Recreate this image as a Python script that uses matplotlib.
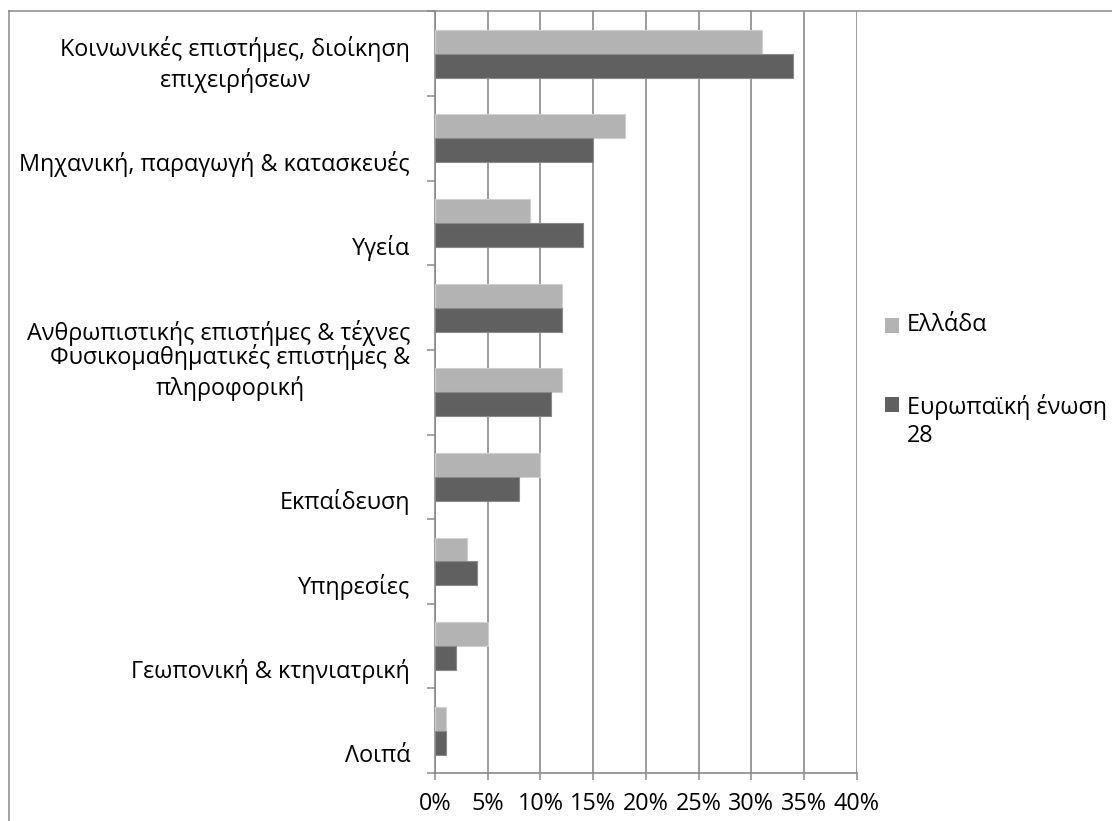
import matplotlib
matplotlib.use("Agg")
import matplotlib.pyplot as plt
import matplotlib.patches as mpatches
from matplotlib.lines import Line2D
import numpy as np

plt.rcParams['font.family'] = ['Open Sans', 'DejaVu Sans']

# Categories (top to bottom)
categories = [
    "Κοινωνικές επιστήμες, διοίκηση\nεπιχειρήσεων",
    "Μηχανική, παραγωγή & κατασκευές",
    "Υγεία",
    "Ανθρωπιστικής επιστήμες & τέχνες",
    "Φυσικομαθηματικές επιστήμες &\nπληροφορική",
    "Εκπαίδευση",
    "Υπηρεσίες",
    "Γεωπονική & κτηνιατρική",
    "Λοιπά",
]

greece = [31, 18, 9, 12, 12, 10, 3, 5, 1]
eu28 = [34, 15, 14, 12, 11, 8, 4, 2, 1]

series_names = ["Ελλάδα", "Ευρωπαϊκή ένωση\n28"]
x_ticks = [0, 5, 10, 15, 20, 25, 30, 35, 40]

GREECE_COLOR = "#B3B3B3"
EU_COLOR = "#606060"
GRID_COLOR = "#8A8A8A"
FS = 16.8

fig = plt.figure(figsize=(11.12, 8.21), dpi=100)
W, H = 1112, 821
ax = fig.add_axes([435 / W, 1 - 773 / H, (856.7 - 435) / W, (773 - 11.5) / H])

y = np.arange(len(categories))
bh = 0.283
ax.barh(y - bh / 2, greece, height=bh, color=GREECE_COLOR,
        edgecolor="#CFCFCF", linewidth=0.8, zorder=3)
ax.barh(y + bh / 2, eu28, height=bh, color=EU_COLOR,
        edgecolor="#8A8A8A", linewidth=0.8, zorder=3)

ax.set_xlim(0, 40)
ax.set_ylim(len(categories) - 0.5, -0.5)

# x axis
ax.set_xticks(x_ticks)
ax.set_xticklabels([f"{t}%" for t in x_ticks], fontsize=FS)
ax.tick_params(axis='x', direction='out', length=5, width=1.1,
               color=GRID_COLOR, pad=9)
ax.grid(axis='x', color=GRID_COLOR, linewidth=1.2, zorder=0)
ax.set_axisbelow(True)

# y axis: ticks on category boundaries, labels placed as text
ax.set_yticks(np.arange(len(categories) + 1) - 0.5)
ax.set_yticklabels([])
ax.tick_params(axis='y', direction='out', length=5.8, width=1.1,
               color=GRID_COLOR)

label_shift = [0.13, 0.3, 0.3, 0.3, -0.23, 0.3, 0.3, 0.3, 0.3]
for i, name in enumerate(categories):
    ax.text(-0.059, i + label_shift[i], name, transform=ax.get_yaxis_transform(),
            ha='right', va='center', multialignment='center',
            fontsize=FS, linespacing=1.3, color='black')

for side in ['top', 'right']:
    ax.spines[side].set_visible(False)
for side in ['left', 'bottom']:
    ax.spines[side].set_color(GRID_COLOR)
    ax.spines[side].set_linewidth(1.2)

# legend drawn by hand
aw, ah = 856.7 - 435, 773 - 11.5
leg_items = [(GREECE_COLOR, series_names[0], 333, 325),
             (EU_COLOR, series_names[1], 412, 421)]
for color, name, sq_bottom, text_y in leg_items:
    ax.add_patch(mpatches.Rectangle(((885 - 435) / aw, (773 - sq_bottom) / ah),
                                    14 / aw, 15 / ah, transform=ax.transAxes,
                                    facecolor=color, edgecolor='none',
                                    clip_on=False))
    ax.text((907 - 435) / aw, (773 - text_y) / ah, name, transform=ax.transAxes,
            ha='left', va='center', fontsize=FS, linespacing=1.2)

# chart border (cropped)
bx, by = 8.5 / W, 1 - 11.5 / H
fig.add_artist(Line2D([bx, bx], [0, by], color=GRID_COLOR, linewidth=1.1,
                      transform=fig.transFigure))
fig.add_artist(Line2D([bx, 1], [by, by], color=GRID_COLOR, linewidth=1.1,
                      transform=fig.transFigure))

fig.savefig("out.png", dpi=100, facecolor='white')
